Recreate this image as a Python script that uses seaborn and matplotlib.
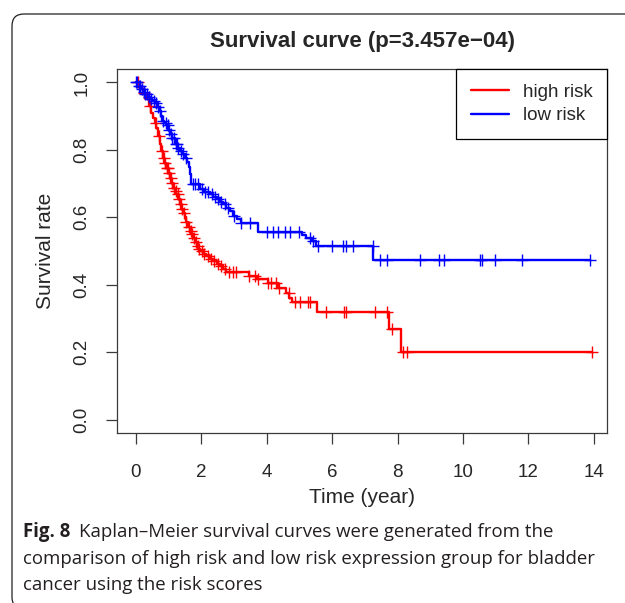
import numpy as np
import pandas as pd
import seaborn as sns
import matplotlib
matplotlib.use("Agg")
import matplotlib.pyplot as plt
from matplotlib.patches import FancyBboxPatch

# ---------------- data ----------------
title = "Survival curve (p=3.457e\u221204)"
x_label = "Time (year)"
y_label = "Survival rate"
x_ticks = [0, 2, 4, 6, 8, 10, 12, 14]
y_ticks = [0.0, 0.2, 0.4, 0.6, 0.8, 1.0]
groups = ["high risk", "low risk"]

# high risk: step times and survival after each step
high_time = [0, 0.10, 0.18, 0.24, 0.30, 0.36, 0.42, 0.48, 0.53, 0.58, 0.63, 0.68,
             0.73, 0.78, 0.83, 0.88, 0.94, 0.99, 1.04, 1.09, 1.14, 1.19, 1.24,
             1.30, 1.35, 1.40, 1.45, 1.50, 1.55, 1.60, 1.65, 1.70, 1.75, 1.80,
             1.86, 1.91, 1.98, 2.06, 2.16, 2.26, 2.36, 2.47, 2.58, 2.68, 2.75,
             3.45, 3.70, 4.05, 4.35, 4.60, 4.70, 4.78, 5.53, 7.75, 8.10, 13.93]
high_surv = [1.0, 0.99, 0.98, 0.97, 0.96, 0.95, 0.93, 0.91, 0.895, 0.88, 0.865, 0.84,
             0.816, 0.797, 0.777, 0.762, 0.747, 0.732, 0.718, 0.703, 0.688, 0.678, 0.669,
             0.654, 0.639, 0.626, 0.613, 0.600, 0.585, 0.570, 0.560, 0.551, 0.538, 0.526,
             0.516, 0.506, 0.499, 0.492, 0.484, 0.477, 0.470, 0.462, 0.455, 0.447, 0.4375,
             0.425, 0.418, 0.405, 0.389, 0.374, 0.360, 0.349, 0.319, 0.270, 0.200, 0.200]
high_censor = [0.07, 0.25, 0.45, 0.62, 0.72, 0.80, 0.86, 0.90, 0.95, 0.98, 1.02, 1.08,
               1.12, 1.18, 1.22, 1.28, 1.33, 1.38, 1.42, 1.48, 1.55, 1.62, 1.68, 1.72,
               1.78, 1.84, 1.90, 1.95, 2.02, 2.10, 2.20, 2.30, 2.40, 2.52, 2.62, 2.72,
               2.85, 2.98, 3.06, 3.47, 3.64, 3.74, 4.05, 4.15, 4.30, 4.38, 4.69, 4.86,
               5.02, 5.27, 5.34, 5.81, 6.36, 6.44, 7.31, 7.69, 7.82, 8.17, 8.28, 13.93]

# low risk
low_time = [0, 0.08, 0.15, 0.22, 0.30, 0.38, 0.43, 0.50, 0.58, 0.65, 0.73, 0.77,
            0.80, 0.88, 0.94, 1.00, 1.04, 1.10, 1.19, 1.27, 1.35, 1.42, 1.50, 1.58,
            1.62, 1.66, 1.70, 1.96, 2.10, 2.26, 2.37, 2.47, 2.57, 2.67, 2.77, 2.87,
            2.98, 3.10, 3.23, 3.75, 5.08, 5.20, 5.38, 5.50, 7.26, 13.88]
low_surv = [1.0, 0.99, 0.98, 0.973, 0.965, 0.958, 0.952, 0.946, 0.939, 0.928, 0.914, 0.90,
            0.885, 0.88, 0.875, 0.86, 0.846, 0.834, 0.816, 0.806, 0.796, 0.787, 0.777, 0.765,
            0.748, 0.728, 0.698, 0.683, 0.676, 0.669, 0.661, 0.654, 0.646, 0.639, 0.629, 0.619,
            0.605, 0.595, 0.583, 0.556, 0.546, 0.538, 0.530, 0.516, 0.472, 0.472]
low_censor = [0.02, 0.05, 0.10, 0.14, 0.18, 0.25, 0.30, 0.35, 0.40, 0.47, 0.55, 0.62,
              0.68, 0.75, 0.85, 0.92, 0.98, 1.02, 1.08, 1.12, 1.16, 1.22, 1.26, 1.30,
              1.38, 1.45, 1.55, 1.75, 1.82, 1.90, 2.02, 2.12, 2.20, 2.32, 2.42, 2.52,
              2.62, 2.72, 2.82, 3.00, 3.23, 3.49, 4.00, 4.20, 4.35, 4.56, 4.71, 4.98,
              5.32, 5.42, 5.57, 6.01, 6.34, 6.44, 6.65, 7.24, 7.46, 7.67, 8.69, 9.28,
              9.43, 10.52, 10.57, 10.98, 11.80, 13.88]

caption_bold = "Fig. 8"
caption_lines = ["Kaplan\u2013Meier survival curves were generated from the",
                 "comparison of high risk and low risk expression group for bladder",
                 "cancer using the risk scores"]

colors = {"high risk": "#FF0000", "low risk": "#0000FF"}


def surv_at(times, surv, t):
    idx = np.searchsorted(np.asarray(times), np.asarray(t), side="right") - 1
    return np.asarray(surv)[idx]


curves = pd.concat([
    pd.DataFrame({"time": high_time, "surv": high_surv, "group": "high risk"}),
    pd.DataFrame({"time": low_time, "surv": low_surv, "group": "low risk"}),
])
marks = pd.concat([
    pd.DataFrame({"time": high_censor, "surv": surv_at(high_time, high_surv, high_censor),
                  "group": "high risk"}),
    pd.DataFrame({"time": low_censor, "surv": surv_at(low_time, low_surv, low_censor),
                  "group": "low risk"}),
])

# ---------------- style ----------------
sns.set_style("ticks")
plt.rcParams["font.family"] = ["Liberation Sans", "DejaVu Sans"]
plt.rcParams["axes.edgecolor"] = "#3a3a3a"

fig = plt.figure(figsize=(6.25, 6.03), dpi=100)
ax = fig.add_axes([117 / 625, (603 - 433) / 603, 490 / 625, 364 / 603])

for g in groups:
    sub = curves[curves["group"] == g]
    sns.lineplot(data=sub, x="time", y="surv", ax=ax, color=colors[g],
                 drawstyle="steps-post", linewidth=1.7, estimator=None,
                 sort=False, label=g)
    msub = marks[marks["group"] == g]
    sns.scatterplot(data=msub, x="time", y="surv", ax=ax, color=colors[g],
                    marker="+", s=75, linewidth=1.0, legend=False, zorder=3)

ax.set_xlim(-0.57, 14.40)
ax.set_ylim(-0.04, 1.04)
ax.set_xticks(x_ticks)
ax.set_xticklabels([str(v) for v in x_ticks])
ax.set_yticks(y_ticks)
ax.set_yticklabels([f"{v:.1f}" for v in y_ticks], rotation=90, va="center")
ax.tick_params(axis="both", direction="out", length=8, width=0.9,
               color="#3a3a3a", labelsize=13.5, pad=11)
ax.tick_params(axis="x", pad=14)
for sp in ax.spines.values():
    sp.set_linewidth(0.9)
    sp.set_visible(True)

ax.set_xlabel(x_label, fontsize=15)
ax.set_ylabel(y_label, fontsize=15)
ax.xaxis.set_label_coords(0.5, -(488 - 433) / 364)
ax.yaxis.set_label_coords(-(117 - 55) / 490, 0.5)
ax.set_title(title, fontsize=16, fontweight="bold", pad=16)

leg = ax.legend(loc="upper right", borderaxespad=0, fancybox=False,
                edgecolor="black", fontsize=13.5, handlelength=2.0,
                handletextpad=0.75, labelspacing=0.35, borderpad=0.78,
                framealpha=1)
leg.get_frame().set_linewidth(0.9)
for line in leg.get_lines():
    line.set_linewidth(1.7)

# ---------------- outer rounded frame ----------------
frame = FancyBboxPatch((0.12, -0.06), 7.0, 5.89 + 0.06,
                       boxstyle="round,pad=0,rounding_size=0.12",
                       transform=fig.dpi_scale_trans, facecolor="none",
                       edgecolor="#231f20", linewidth=0.9, clip_on=False)
fig.add_artist(frame)

# ---------------- caption ----------------
cap_font = "Open Sans"
cap_size = 13.4
fig.canvas.draw()
renderer = fig.canvas.get_renderer()
baselines = [603 - 537, 603 - 564, 603 - 590]
tb = fig.text(23 / 625, baselines[0] / 603, caption_bold, fontsize=cap_size,
              fontweight="bold", family=cap_font, va="baseline", ha="left",
              color="#231f20")
bb = tb.get_window_extent(renderer=renderer)
fig.text((bb.x1 + 9) / 625, baselines[0] / 603, caption_lines[0], fontsize=cap_size,
         family=cap_font, va="baseline", ha="left", color="#231f20")
for line, yb in zip(caption_lines[1:], baselines[1:]):
    fig.text(23 / 625, yb / 603, line, fontsize=cap_size, family=cap_font,
             va="baseline", ha="left", color="#231f20")

fig.savefig("out.png", dpi=100)
